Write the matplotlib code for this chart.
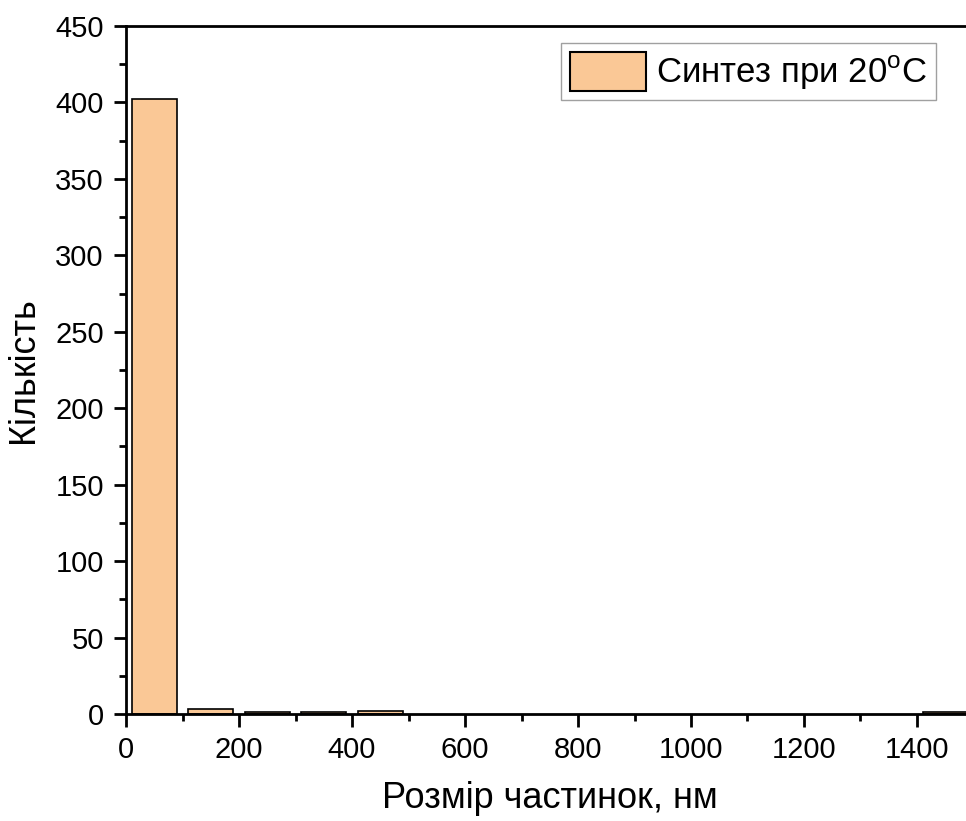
import matplotlib
matplotlib.use("Agg")
import matplotlib.pyplot as plt
from matplotlib.ticker import MultipleLocator

plt.rcParams['font.family'] = ['Liberation Sans', 'DejaVu Sans']
plt.rcParams['mathtext.fontset'] = 'custom'
plt.rcParams['mathtext.rm'] = 'Liberation Sans'

# histogram bins (nm) and counts
bin_left = [0, 100, 200, 300, 400, 1400]
counts = [402, 3, 1, 1, 2, 1]
bin_width = 100
legend_label = 'Синтез при 20$^{\\rm o}$C'

fig = plt.figure(figsize=(9.66, 8.21), dpi=100)
ax = fig.add_axes([126 / 966, 107 / 821, 847.5 / 966, 688 / 821])

centers = [b + bin_width / 2 for b in bin_left]
ax.bar(centers, counts, width=80, color='#FAC896', edgecolor='black',
       linewidth=1.2, label=legend_label)

ax.set_xlim(0, 1500)
ax.set_ylim(0, 450)
ax.xaxis.set_major_locator(MultipleLocator(200))
ax.xaxis.set_minor_locator(MultipleLocator(100))
ax.yaxis.set_major_locator(MultipleLocator(50))
ax.yaxis.set_minor_locator(MultipleLocator(25))
ax.tick_params(which='major', direction='out', length=9, width=2, labelsize=21, pad=7)
ax.tick_params(which='minor', direction='out', length=5, width=2)
ax.tick_params(top=False, right=False)
for s in ['left', 'bottom', 'top']:
    ax.spines[s].set_linewidth(2)
ax.spines['right'].set_visible(False)

ax.set_xlabel('Розмір частинок, нм', fontsize=26, labelpad=12)
ax.set_ylabel('Кількість', fontsize=26, labelpad=10)

leg = ax.legend(loc='upper right', bbox_to_anchor=(936 / 966, 1 - 43 / 821),
                bbox_transform=fig.transFigure, fontsize=25, frameon=True,
                fancybox=False, handlelength=2.2, handleheight=1.35,
                borderpad=0.25, borderaxespad=0, handletextpad=0.3)
leg.get_frame().set_edgecolor('#888888')
leg.get_frame().set_linewidth(1)
leg.legend_handles[0].set_linewidth(1.5)

fig.savefig('out.png', dpi=100)
